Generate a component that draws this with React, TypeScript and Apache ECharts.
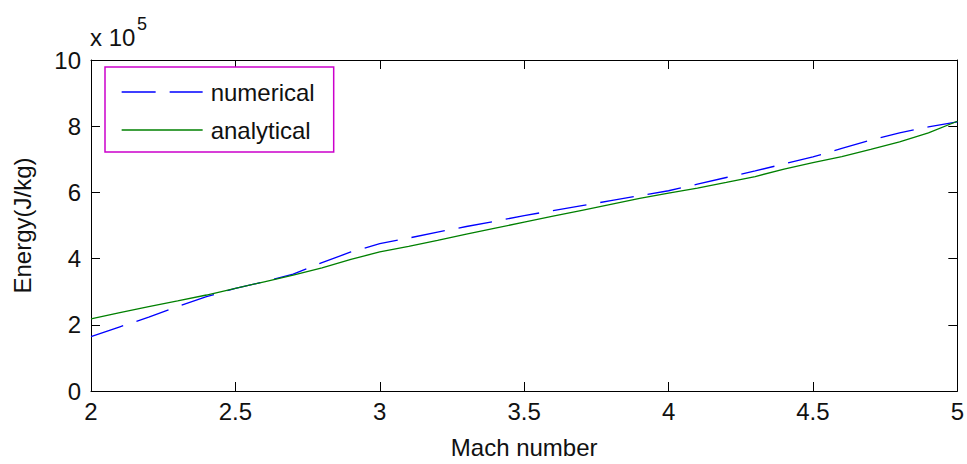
import React, { useEffect, useRef } from "react";
import * as echarts from "echarts";

// Mach numbers (x) and energies in units of 10^5 J/kg
const mach = [2.0, 2.1, 2.2, 2.3, 2.4, 2.5, 2.6, 2.7, 2.8, 2.9, 3.0, 3.1, 3.2, 3.3, 3.4, 3.5, 3.6, 3.7, 3.8, 3.9, 4.0, 4.1, 4.2, 4.3, 4.4, 4.5, 4.6, 4.7, 4.8, 4.9, 5.0];
const numerical = [1.64, 1.94, 2.23, 2.55, 2.85, 3.1, 3.3, 3.53, 3.88, 4.2, 4.45, 4.62, 4.8, 4.97, 5.13, 5.3, 5.45, 5.6, 5.75, 5.9, 6.05, 6.25, 6.45, 6.65, 6.86, 7.07, 7.33, 7.58, 7.8, 7.98, 8.13];
const analytical = [2.18, 2.37, 2.55, 2.72, 2.9, 3.1, 3.3, 3.5, 3.72, 3.98, 4.2, 4.37, 4.55, 4.74, 4.92, 5.1, 5.28, 5.46, 5.64, 5.82, 5.98, 6.13, 6.3, 6.48, 6.7, 6.9, 7.08, 7.3, 7.53, 7.8, 8.15];
const seriesNames = ["numerical", "analytical"];
const xTicks = { min: 2, max: 5, interval: 0.5 };
const yTicks = { min: 0, max: 10, interval: 2 };

const FONT = "Liberation Sans, Arial, sans-serif";
const TXT = "#111";
const BLUE = "#0000ff";
const GREEN = "#008000";
const DASH = [34, 14];

export default function App() {
  const ref = useRef<HTMLDivElement>(null);
  useEffect(() => {
    document.body.style.margin = "0";
    if (!ref.current) return;
    const chart = echarts.init(ref.current, undefined, { renderer: "svg" });
    const axisCommon = {
      type: "value" as const,
      axisLine: { show: true, onZero: false, lineStyle: { color: "#000", width: 1 } },
      axisTick: { show: true, inside: true, length: 9, lineStyle: { color: "#000", width: 1 } },
      splitLine: { show: false },
    };
    chart.setOption({
      animation: false,
      backgroundColor: "#fff",
      textStyle: { fontFamily: FONT },
      grid: { left: 91, right: 5, top: 60, bottom: 68, containLabel: false },
      legend: {
        orient: "vertical",
        left: 105,
        top: 67,
        data: [
          { name: seriesNames[0], lineStyle: { color: BLUE, width: 1.3, type: DASH } },
          { name: seriesNames[1], lineStyle: { color: GREEN, width: 1.3, type: "solid" } },
        ],
        itemWidth: 81,
        itemHeight: 20,
        itemGap: 14,
        padding: [13, 19, 10, 16],
        borderColor: "#cc00cc",
        borderWidth: 1.5,
        backgroundColor: "#fff",
        itemStyle: { opacity: 0 },
        textStyle: { fontSize: 24, color: TXT, fontFamily: FONT, padding: [0, 0, 0, 3] },
      },
      xAxis: [
        {
          ...axisCommon,
          position: "bottom",
          min: xTicks.min,
          max: xTicks.max,
          interval: xTicks.interval,
          axisLabel: { fontSize: 24, color: TXT, fontFamily: FONT, margin: 8 },
          name: "Mach number",
          nameLocation: "middle",
          nameGap: 44,
          nameTextStyle: { fontSize: 24, color: TXT, fontFamily: FONT },
        },
        {
          ...axisCommon,
          position: "top",
          min: xTicks.min,
          max: xTicks.max,
          interval: xTicks.interval,
          axisLabel: { show: false },
        },
      ],
      yAxis: [
        {
          ...axisCommon,
          position: "left",
          min: yTicks.min,
          max: yTicks.max,
          interval: yTicks.interval,
          axisLabel: { fontSize: 24, color: TXT, fontFamily: FONT, margin: 10 },
          name: "Energy(J/kg)",
          nameLocation: "middle",
          nameGap: 57,
          nameTextStyle: { fontSize: 24, color: TXT, fontFamily: FONT },
        },
        {
          ...axisCommon,
          position: "right",
          min: yTicks.min,
          max: yTicks.max,
          interval: yTicks.interval,
          axisLabel: { show: false },
        },
      ],
      graphic: [
        {
          type: "text",
          left: 90,
          top: 25,
          style: { text: "x 10", fontSize: 24, fill: TXT, fontFamily: FONT },
        },
        {
          type: "text",
          left: 137,
          top: 15,
          style: { text: "5", fontSize: 18, fill: TXT, fontFamily: FONT },
        },
      ],
      series: [
        {
          name: seriesNames[0],
          type: "line",
          symbol: "none",
          data: mach.map((m, i) => [m, numerical[i]]),
          lineStyle: { color: BLUE, width: 1.3, type: DASH },
          itemStyle: { color: BLUE },
        },
        {
          name: seriesNames[1],
          type: "line",
          symbol: "none",
          data: mach.map((m, i) => [m, analytical[i]]),
          lineStyle: { color: GREEN, width: 1.3, type: "solid" },
          itemStyle: { color: GREEN },
        },
      ],
    });
    return () => chart.dispose();
  }, []);
  return <div ref={ref} style={{ width: 967, height: 464 }} />;
}
